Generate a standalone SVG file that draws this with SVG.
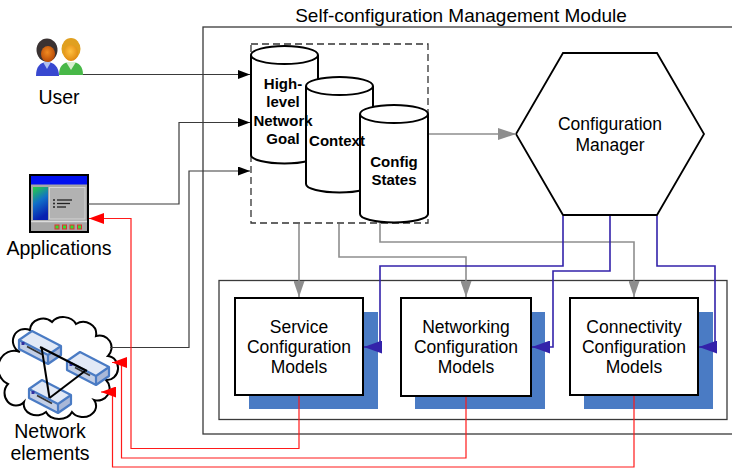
<svg xmlns="http://www.w3.org/2000/svg" width="732" height="468" viewBox="0 0 732 468">
  <style>
    text { font-family: "Liberation Sans", Arial, sans-serif; fill: #000; }
    .lbl { font-size: 19.5px; text-anchor: middle; }
    .title { font-size: 19px; text-anchor: middle; }
    .mid { font-size: 17.5px; text-anchor: middle; }
    .db { font-size: 15px; font-weight: bold; text-anchor: middle; }
    .frame { fill: none; stroke: #3a3a3a; stroke-width: 1.3; }
    .model { fill: #fff; stroke: #000; stroke-width: 2; }
    .shadow { fill: #4a7bc4; }
    .cyl { fill: #fff; stroke: #000; stroke-width: 2; }
    .blk { fill: none; stroke: #3a3a3a; stroke-width: 1.2; }
    .gry { fill: none; stroke: #8e8e8e; stroke-width: 1.6; }
    .blu { fill: none; stroke: #3322aa; stroke-width: 1.6; }
    .red { fill: none; stroke: #ff1a1a; stroke-width: 1.2; }
    .dev-top { fill: #e2e9f6; }
    .dev-front { fill: #c3cfe6; }
    .dev-end { fill: #a9b8d8; }
    .dev-edge { fill: none; stroke: #4a7bc4; stroke-width: 2.2; stroke-linejoin: round; }
  </style>
  <defs>
    <marker id="ahBlack" markerUnits="userSpaceOnUse" markerWidth="12" markerHeight="9" refX="12" refY="4.5" orient="auto">
      <path d="M0,0 L12,4.5 L0,9 Z" fill="#000"/>
    </marker>
    <marker id="ahGray" markerUnits="userSpaceOnUse" markerWidth="16" markerHeight="11" refX="16" refY="5.5" orient="auto">
      <path d="M0,0 L16,5.5 L0,11 Z" fill="#8e8e8e"/>
    </marker>
    <marker id="ahGrayL" markerUnits="userSpaceOnUse" markerWidth="18" markerHeight="12" refX="18" refY="6" orient="auto">
      <path d="M0,0 L18,6 L0,12 Z" fill="#8e8e8e"/>
    </marker>
    <marker id="ahBlue" markerUnits="userSpaceOnUse" markerWidth="18" markerHeight="13" refX="18" refY="6.5" orient="auto">
      <path d="M0,0 L18,6.5 L0,13 Z" fill="#3322aa"/>
    </marker>
    <marker id="ahRed" markerUnits="userSpaceOnUse" markerWidth="15" markerHeight="11" refX="15" refY="5.5" orient="auto">
      <path d="M0,0 L15,5.5 L0,11 Z" fill="#ff0000"/>
    </marker>
    <linearGradient id="panelGrad" x1="0" y1="0" x2="0.3" y2="1">
      <stop offset="0" stop-color="#28d040"/>
      <stop offset="0.5" stop-color="#1070c8"/>
      <stop offset="1" stop-color="#0820b0"/>
    </linearGradient>
    <radialGradient id="faceL" cx="0.45" cy="0.4" r="0.6">
      <stop offset="0" stop-color="#f08a20"/>
      <stop offset="1" stop-color="#b84a08"/>
    </radialGradient>
    <radialGradient id="faceR" cx="0.45" cy="0.4" r="0.6">
      <stop offset="0" stop-color="#ffc040"/>
      <stop offset="1" stop-color="#e08a10"/>
    </radialGradient>
    <g id="device">
      <path class="dev-top" d="M0,9 L13,0 L42,15 L29,24 Z"/>
      <path class="dev-front" d="M0,9 L29,24 L29,33 L0,18 Z"/>
      <path class="dev-end" d="M29,24 L42,15 L42,24 L29,33 Z"/>
      <path class="dev-edge" d="M0,9 L13,0 L42,15 L42,24 L29,33 L0,18 Z M0,9 L29,24 L42,15 M29,24 L29,33"/>
      <rect x="2.5" y="11" width="3" height="3" fill="#3030a0"/>
      <path d="M8,15.5 L23,23.5" stroke="#333" stroke-width="1.6"/>
    </g>
  </defs>

  <!-- module frames -->
  <g id="module-frame">
    <rect class="frame" x="203" y="27" width="545" height="407"/>
    <text class="title" x="461" y="22">Self-configuration Management Module</text>
    <rect class="frame" x="219" y="280.5" width="508" height="139"/>
  </g>

  <!-- user -->
  <g id="user">
    <path d="M59,75 C59,66 63,62 71,62 C79,62 83,66 83,75 Z" fill="#48b848"/>
    <path d="M66,62 L71,70 L76,62 Z" fill="#d8f0d0"/>
    <ellipse cx="71" cy="49" rx="9.5" ry="11" fill="#e0a020"/>
    <ellipse cx="71" cy="53" rx="7" ry="8" fill="url(#faceR)"/>
    <path d="M36,76 C36,67 40,62 47,62 C54,62 59,67 59,76 Z" fill="#3848d0"/>
    <path d="M43,62 L47,69 L51,62 Z" fill="#b0c0f0"/>
    <ellipse cx="47" cy="50" rx="10.5" ry="11.5" fill="#3a3232"/>
    <ellipse cx="48" cy="54" rx="7" ry="8" fill="url(#faceL)"/>
    <text class="lbl" x="59" y="104">User</text>
  </g>

  <!-- applications -->
  <g id="applications">
    <rect x="30" y="175" width="58" height="57" fill="#a6a6a6" stroke="#000" stroke-width="2"/>
    <rect x="31" y="176" width="56" height="8.5" fill="#0010f0"/>
    <rect x="33" y="187" width="15" height="33" fill="url(#panelGrad)"/>
    <rect x="49.5" y="187.5" width="35.5" height="31.5" fill="#b2b2b2" stroke="#d4d4d4" stroke-width="1"/>
    <g fill="#222">
      <circle cx="54" cy="200" r="1"/>
      <circle cx="54" cy="203.5" r="1"/>
      <circle cx="54" cy="207" r="1"/>
    </g>
    <g stroke="#222" stroke-width="1.3">
      <path d="M57,200 H72"/>
      <path d="M57,203.5 H70"/>
      <path d="M57,207 H66"/>
    </g>
    <path d="M31,221.5 H87" stroke="#dcdcdc" stroke-width="1.5"/>
    <g fill="#30e030" stroke="#e03030" stroke-width="1">
      <rect x="55" y="225" width="4" height="4"/>
      <rect x="62.5" y="225" width="4" height="4"/>
      <rect x="70" y="225" width="4" height="4"/>
      <rect x="77.5" y="225" width="4" height="4"/>
    </g>
    <text class="lbl" x="59" y="255">Applications</text>
  </g>

  <!-- network elements -->
  <g id="network-elements">
    <path d="M20,352 A12,12 0 0 1 30,330 A13,12 0 0 1 52,322 A14,12 0 0 1 76,324 A13,12 0 0 1 96,336 A12,12 0 0 1 108,356 A11,12 0 0 1 106,380 A12,12 0 0 1 94,400 A13,11 0 0 1 72,412 A14,11 0 0 1 46,412 A13,11 0 0 1 24,402 A11,12 0 0 1 8,384 A11,12 0 0 1 20,352 Z" fill="#fff" stroke="#000" stroke-width="2"/>
    <use href="#device" x="19" y="331"/>
    <use href="#device" x="67" y="352"/>
    <use href="#device" x="29" y="380"/>
    <g stroke="#000" stroke-width="2" fill="none">
      <path d="M40,347 L87,371"/>
      <path d="M41.5,347 L49.5,398"/>
      <path d="M49.5,398 L85,371"/>
    </g>
    <text class="lbl" x="50" y="438">Network</text>
    <text class="lbl" x="50" y="460">elements</text>
  </g>

  <!-- knowledge store -->
  <g id="knowledge-store">
    <rect x="251" y="44" width="177" height="179" fill="none" stroke="#333" stroke-width="1.3" stroke-dasharray="7,4"/>
    <path class="cyl" d="M251,55 V155 A33.5,8.5 0 0 0 318,155 V55 A33.5,9 0 0 0 251,55 A33.5,9 0 0 0 318,55"/>
    <path class="cyl" d="M306,86 V184 A33.5,8.5 0 0 0 373,184 V86 A33.5,9 0 0 0 306,86 A33.5,9 0 0 0 373,86"/>
    <path class="cyl" d="M360,114 V214 A34,8.5 0 0 0 428,214 V114 A34,9 0 0 0 360,114 A34,9 0 0 0 428,114"/>
    <text class="db" x="283" y="88.5">High-</text>
    <text class="db" x="283" y="107">level</text>
    <text class="db" x="283" y="125.5">Network</text>
    <text class="db" x="283" y="144">Goal</text>
    <text class="db" x="337" y="146">Context</text>
    <text class="db" x="394" y="166.5">Config</text>
    <text class="db" x="394" y="184.5">States</text>
  </g>

  <!-- configuration manager -->
  <g id="configuration-manager">
    <path d="M563,53 H657 L704,134 L657,215 H563 L516,134 Z" fill="#fff" stroke="#000" stroke-width="1.8" stroke-linejoin="miter"/>
    <text class="mid" x="610" y="129.5">Configuration</text>
    <text class="mid" x="610" y="150.5">Manager</text>
  </g>

  <!-- configuration models -->
  <g id="service-models">
    <rect class="shadow" x="249" y="312" width="129" height="97"/>
    <rect class="model" x="235" y="298" width="128" height="97"/>
    <text class="mid" x="299" y="333">Service</text>
    <text class="mid" x="299" y="353">Configuration</text>
    <text class="mid" x="299" y="373">Models</text>
  </g>
  <g id="networking-models">
    <rect class="shadow" x="415" y="312" width="130" height="97"/>
    <rect class="model" x="401" y="298" width="130" height="98"/>
    <text class="mid" x="466" y="333">Networking</text>
    <text class="mid" x="466" y="353">Configuration</text>
    <text class="mid" x="466" y="373">Models</text>
  </g>
  <g id="connectivity-models">
    <rect class="shadow" x="584" y="312" width="129" height="97"/>
    <rect class="model" x="570" y="298" width="128" height="97"/>
    <text class="mid" x="634" y="333">Connectivity</text>
    <text class="mid" x="634" y="353">Configuration</text>
    <text class="mid" x="634" y="373">Models</text>
  </g>

  <!-- connectors -->
  <g id="connectors">
    <!-- inputs to the knowledge store -->
    <path class="blk" d="M83,74.5 H250" marker-end="url(#ahBlack)"/>
    <path class="blk" d="M88,204 H179 V122.5 H250" marker-end="url(#ahBlack)"/>
    <path class="blk" d="M110,347.5 H189 V171 H250" marker-end="url(#ahBlack)"/>
    <!-- store to manager and models -->
    <path class="gry" d="M429,134 H516" marker-end="url(#ahGrayL)"/>
    <path class="gry" d="M299,224 V297" marker-end="url(#ahGray)"/>
    <path class="gry" d="M339,224 V257 H466 V297" marker-end="url(#ahGray)"/>
    <path class="gry" d="M380,223 V242 H634 V297" marker-end="url(#ahGray)"/>
    <!-- manager to models -->
    <path class="blu" d="M563,216 V266 H380 V347 H364" marker-end="url(#ahBlue)"/>
    <path class="blu" d="M610,216 V271 H553 V347 H532" marker-end="url(#ahBlue)"/>
    <path class="blu" d="M657,216 V266 H715 V347 H699" marker-end="url(#ahBlue)"/>
    <!-- models back to applications and network elements -->
    <path class="red" d="M299,396 V448.5 H131 V218.5 H89" marker-end="url(#ahRed)"/>
    <path class="red" d="M466,397 V458 H121.5 V362.5 H112" marker-end="url(#ahRed)"/>
    <path class="red" d="M634,396 V467 H112.5 V392 H101" marker-end="url(#ahRed)"/>
  </g>
</svg>
